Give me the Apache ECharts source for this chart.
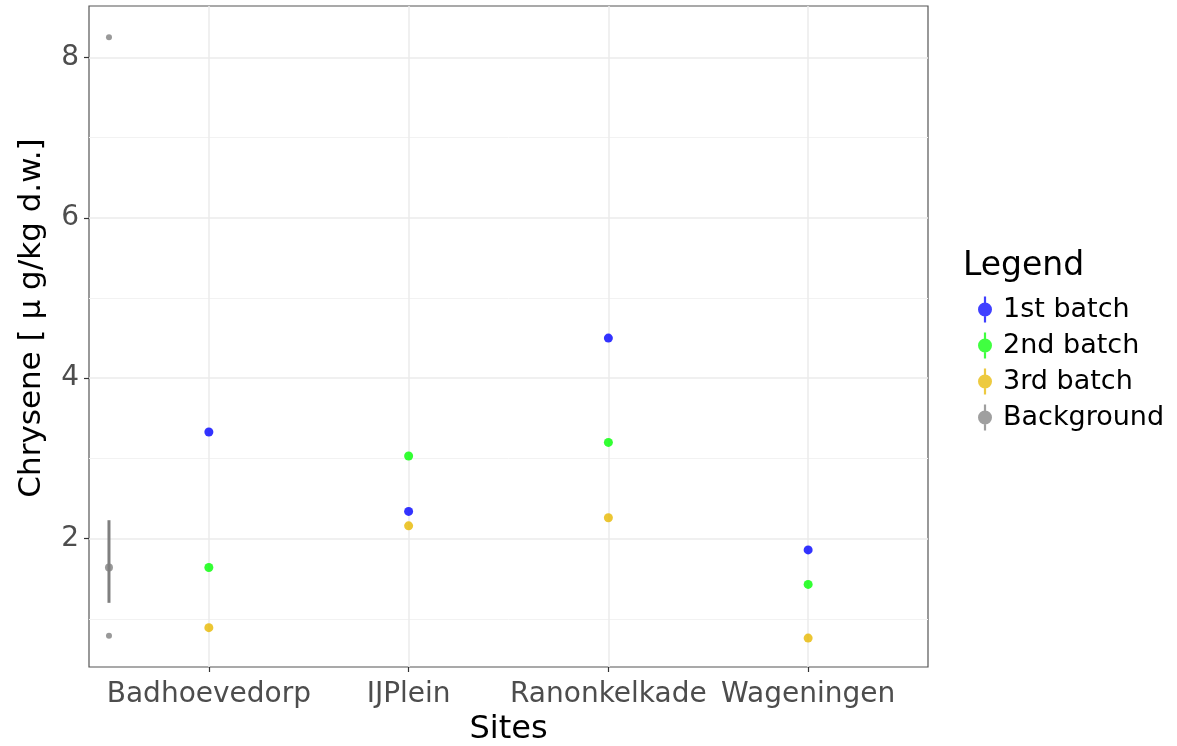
<!DOCTYPE html>
<html><head><meta charset="utf-8">
<script src="https://cdn.jsdelivr.net/npm/echarts@6/dist/echarts.min.js"></script>
<style>html,body{margin:0;padding:0;background:#fff}#c{width:1177px;height:746px}</style>
</head><body><div id="c"></div>
<script>
// ---- data ----
const sites = ['Badhoevedorp', 'IJPlein', 'Ranonkelkade', 'Wageningen'];
const sitePos = [1, 2, 3, 4];
const batch1 = [3.33, 2.34, 4.50, 1.86];
const batch2 = [1.64, 3.03, 3.20, 1.43];
const batch3 = [0.89, 2.16, 2.26, 0.76];
const bgPos = 0.5;
const bgMean = 1.64;
const bgLow = 1.20;
const bgHigh = 2.23;
const bgExtremes = [8.25, 0.79];
const yTicks = [2, 4, 6, 8];
const yMinor = [1, 3, 5, 7];

const FONT = '"DejaVu Sans", "Liberation Sans", Arial, sans-serif';
const cols = {b1: '#0000ff', b2: '#00ff00', b3: '#e7b800', bg: '#7f7f7f'};
const keyIcon = 'path://M-1.1,-13 L1.1,-13 L1.1,13 L-1.1,13 Z M0,-7 A7,7 0 1,1 0,7 A7,7 0 1,1 0,-7 Z';

const chart = echarts.init(document.getElementById('c'), null, {renderer: 'canvas'});
const pts = arr => arr.map((v, i) => [sitePos[i], v]);

chart.setOption({
  animation: false,
  backgroundColor: '#fff',
  grid: {left: 89, top: 6, right: 249, bottom: 79, show: true, outerBoundsMode: 'none', containLabel: false,
    borderColor: '#555', borderWidth: 1.2, backgroundColor: 'transparent'},
  xAxis: {
    type: 'value', min: 0.4, max: 4.6,
    name: 'Sites', nameLocation: 'middle', nameGap: 45,
    nameTextStyle: {fontFamily: FONT, fontSize: 32, color: '#000'},
    axisLine: {show: false},
    axisTick: {show: true, length: 5, customValues: sitePos, lineStyle: {color: '#333', width: 1.2}},
    axisLabel: {customValues: sitePos, margin: 14, fontFamily: FONT, fontSize: 28, color: '#4d4d4d',
      formatter: v => sites[sitePos.indexOf(v)] || ''},
    splitLine: {show: true, lineStyle: {color: '#ebebeb', width: 1.5}}
  },
  yAxis: [{
    type: 'value', min: 0.4, max: 8.64,
    axisLine: {show: false},
    axisTick: {show: true, length: 5, customValues: yTicks, lineStyle: {color: '#333', width: 1.2}},
    axisLabel: {customValues: yTicks, margin: 10, fontFamily: FONT, fontSize: 28, color: '#4d4d4d'},
    splitLine: {show: true, lineStyle: {color: '#ebebeb', width: 1.5}}
  }, {
    type: 'value', min: 0.4, max: 8.64, position: 'left',
    axisLine: {show: false}, axisLabel: {show: false},
    axisTick: {show: false, customValues: yMinor},
    splitLine: {show: true, lineStyle: {color: '#f2f2f2', width: 1}}
  }],
  legend: {
    orient: 'vertical', left: 973, top: 291, itemWidth: 14, itemHeight: 26, itemGap: 9,
    textStyle: {fontFamily: FONT, fontSize: 27, color: '#000', padding: [0, 0, 0, 6]},
    data: [
      {name: '1st batch', icon: keyIcon, itemStyle: {color: cols.b1, opacity: 0.75}},
      {name: '2nd batch', icon: keyIcon, itemStyle: {color: cols.b2, opacity: 0.75}},
      {name: '3rd batch', icon: keyIcon, itemStyle: {color: cols.b3, opacity: 0.75}},
      {name: 'Background', icon: keyIcon, itemStyle: {color: cols.bg, opacity: 0.75}}
    ]
  },
  graphic: [
    {type: 'text', x: 963, y: 266, style: {text: 'Legend', fontFamily: FONT, fontSize: 33, fill: '#000', verticalAlign: 'middle'}},
    {type: 'text', x: 32, y: 318, rotation: Math.PI / 2,
      style: {text: 'Chrysene [ \u03bc g/kg d.w.]', fontFamily: FONT, fontSize: 31, fill: '#000', align: 'center', verticalAlign: 'middle'}}
  ],
  series: [
    {name: '1st batch', type: 'scatter', symbolSize: 9, itemStyle: {color: cols.b1}, data: pts(batch1), z: 5},
    {name: '2nd batch', type: 'scatter', symbolSize: 9, itemStyle: {color: cols.b2}, data: pts(batch2), z: 5},
    {name: '3rd batch', type: 'scatter', symbolSize: 9, itemStyle: {color: cols.b3}, data: pts(batch3), z: 5},
    {name: 'Background', type: 'custom', data: [[bgPos, bgLow, bgHigh]], z: 4,
      renderItem: (params, api) => {
        const a = api.coord([api.value(0), api.value(1)]);
        const b = api.coord([api.value(0), api.value(2)]);
        return {type: 'line', shape: {x1: a[0], y1: a[1], x2: b[0], y2: b[1]}, style: {stroke: cols.bg, lineWidth: 3}};
      }},
    {name: 'Background', type: 'scatter', symbolSize: 8, itemStyle: {color: cols.bg}, data: [[bgPos, bgMean]], z: 5},
    {name: 'Background', type: 'scatter', symbolSize: 6, itemStyle: {color: cols.bg}, data: bgExtremes.map(v => [bgPos, v]), z: 5}
  ]
});
</script></body></html>
